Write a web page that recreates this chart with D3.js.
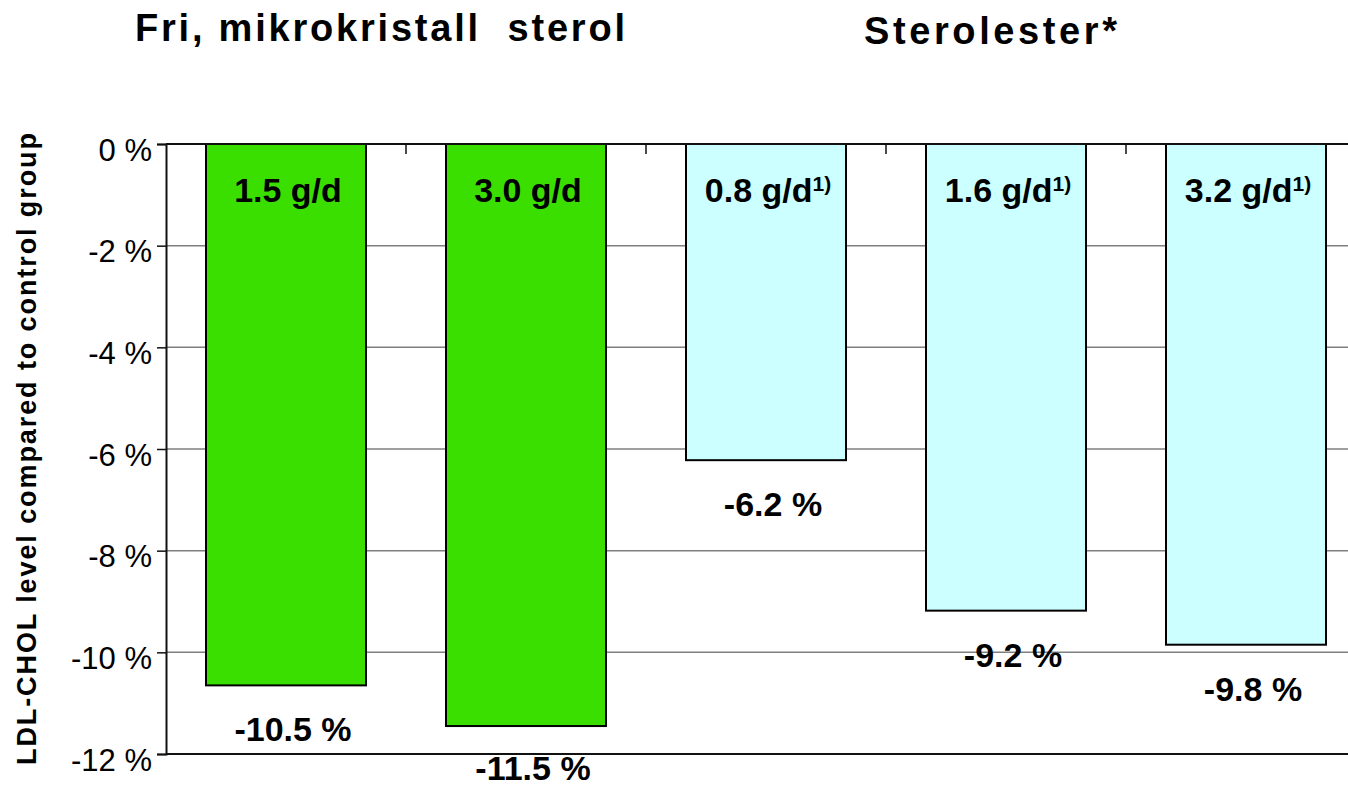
<!DOCTYPE html>
<html>
<head>
<meta charset="utf-8">
<script src="https://cdn.jsdelivr.net/npm/d3@7"></script>
<style>
  body { margin: 0; background: #fff; }
  text { font-family: "Liberation Sans", Arial, sans-serif; }
</style>
</head>
<body>
<svg></svg>
<script>
// ====== Données ====== //
const categories = ["1.5 g/d", "3.0 g/d", "0.8 g/d", "1.6 g/d", "3.2 g/d"];
const superscripts = ["", "", "1)", "1)", "1)"];
const groups = ["fri", "fri", "ester", "ester", "ester"];
const values = [-10.65, -11.45, -6.22, -9.18, -9.85];
const valueLabels = ["-10.5 %", "-11.5 %", "-6.2 %", "-9.2 %", "-9.8 %"];
const yTicks = [0, -2, -4, -6, -8, -10, -12];
const groupTitles = ["Fri, mikrokristall  sterol", "Sterolester*"];
const yTitle = "LDL-CHOL level compared to control group";

// ====== Constantes ====== //
const width = 1348;
const height = 785;

const svg = d3.select("svg")
    .attr("width", width)
    .attr("height", height);

// Échelles
const x = d3.scaleBand()
    .domain(categories)
    .range([166, 1366])
    .paddingInner(1 / 3)
    .paddingOuter(1 / 6);

const y = d3.scaleLinear()
    .domain([0, -12])
    .range([144, 754]);

const colors = { fri: "#3adf00", ester: "#ccffff" };

// Grille horizontale (derrière les barres)
svg.append("g")
    .selectAll("line")
    .data(yTicks.filter(d => d !== 0 && d !== -12))
    .enter()
    .append("line")
    .attr("x1", 166)
    .attr("x2", width)
    .attr("y1", d => y(d))
    .attr("y2", d => y(d))
    .attr("stroke", "#7f7f7f")
    .attr("stroke-width", 1.5);

// Barres
svg.append("g")
    .selectAll("rect")
    .data(values)
    .enter()
    .append("rect")
    .attr("x", (d, i) => x(categories[i]))
    .attr("y", y(0))
    .attr("width", x.bandwidth())
    .attr("height", d => y(d) - y(0))
    .attr("fill", (d, i) => colors[groups[i]])
    .attr("stroke", "#000")
    .attr("stroke-width", 2);

// Ligne du zéro + petits ticks entre catégories
svg.append("line")
    .attr("x1", 166).attr("x2", width)
    .attr("y1", y(0)).attr("y2", y(0))
    .attr("stroke", "#111")
    .attr("stroke-width", 2);

svg.append("g")
    .selectAll("line")
    .data(categories.slice(1))
    .enter()
    .append("line")
    .attr("x1", d => x(d) - x.step() * x.paddingInner() / 2)
    .attr("x2", d => x(d) - x.step() * x.paddingInner() / 2)
    .attr("y1", y(0))
    .attr("y2", y(0) + 10)
    .attr("stroke", "#111")
    .attr("stroke-width", 1.5);

// Ligne du bas (-12 %)
svg.append("line")
    .attr("x1", 166).attr("x2", width)
    .attr("y1", y(-12)).attr("y2", y(-12))
    .attr("stroke", "#111")
    .attr("stroke-width", 2);

// Axe Y
const yAxis = svg.append("g")
    .attr("transform", "translate(166,0)")
    .call(d3.axisLeft(y)
        .tickValues(yTicks)
        .tickFormat(d => d + " %")
        .tickSize(9)
        .tickPadding(5));

yAxis.select(".domain")
    .attr("stroke", "#111")
    .attr("stroke-width", 2);
yAxis.selectAll(".tick line")
    .attr("stroke", "#111")
    .attr("stroke-width", 1.5);
yAxis.selectAll(".tick text")
    .attr("font-family", "Liberation Sans, Arial, sans-serif")
    .attr("font-size", 31)
    .attr("fill", "#000")
    .attr("dy", "0.52em");

// Titre axe Y
svg.append("text")
    .attr("transform", "translate(36," + ((133 + 765) / 2) + ") rotate(-90)")
    .attr("text-anchor", "middle")
    .attr("font-size", 27)
    .attr("font-weight", "bold")
    .attr("textLength", 632)
    .attr("lengthAdjust", "spacing")
    .text(yTitle);

// Étiquettes en haut des barres
const topLabels = svg.append("g")
    .selectAll("text")
    .data(categories)
    .enter()
    .append("text")
    .attr("x", d => x(d) + x.bandwidth() / 2 + 2)
    .attr("y", 202)
    .attr("text-anchor", "middle")
    .attr("font-size", 34)
    .attr("font-weight", "bold");

topLabels.append("tspan").text(d => d);
topLabels.append("tspan")
    .attr("font-size", 21)
    .attr("dy", -11)
    .text((d, i) => superscripts[i]);

// Valeurs sous les barres
svg.append("g")
    .selectAll("text")
    .data(values)
    .enter()
    .append("text")
    .attr("x", (d, i) => x(categories[i]) + x.bandwidth() / 2 + 7)
    .attr("y", d => Math.min(y(d) + 56, height - 5))
    .attr("text-anchor", "middle")
    .attr("font-size", 34)
    .attr("font-weight", "bold")
    .text((d, i) => valueLabels[i]);

// Titres des groupes
svg.append("text")
    .attr("x", 135)
    .attr("y", 41)
    .attr("font-size", 38)
    .attr("font-weight", "bold")
    .style("white-space", "pre")
    .attr("textLength", 490)
    .attr("lengthAdjust", "spacing")
    .text(groupTitles[0]);

svg.append("text")
    .attr("x", 864)
    .attr("y", 44)
    .attr("font-size", 38)
    .attr("font-weight", "bold")
    .attr("textLength", 253)
    .attr("lengthAdjust", "spacing")
    .text(groupTitles[1]);
</script>
</body>
</html>
